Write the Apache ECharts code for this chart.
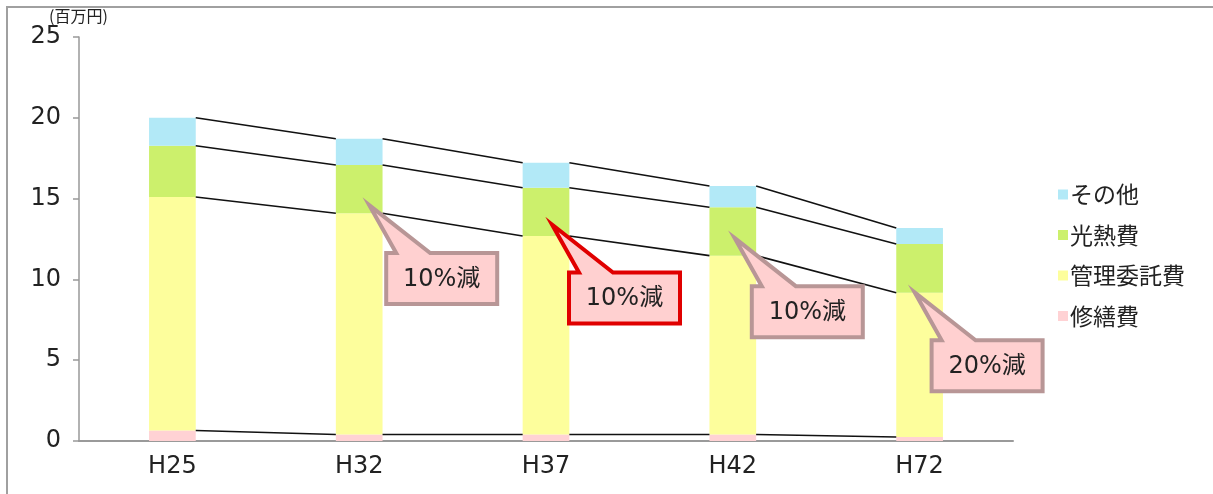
<!DOCTYPE html>
<html>
<head>
<meta charset="utf-8">
<script src="https://cdn.jsdelivr.net/npm/echarts@6/dist/echarts.min.js"></script>
<style>
	html, body { margin: 0; padding: 0; background: #fff; }
	#chart { width: 1213px; height: 494px; }
</style>
</head>
<body>
<div id="chart"></div>
<script>
// 年度
const years = ['H25', 'H32', 'H37', 'H42', 'H72'];
// 各費目（百万円）
const repairCost = [0.65, 0.4, 0.4, 0.4, 0.25];       // 修繕費
const managementCost = [14.45, 13.69, 12.29, 11.07, 8.93]; // 管理委託費
const utilityCost = [3.17, 2.99, 2.98, 2.99, 3.01];   // 光熱費
const otherCost = [1.73, 1.62, 1.55, 1.32, 0.99];     // その他
const yTicks = [0, 5, 10, 15, 20, 25];

// 吹き出し（対象年度・指す値・文言）
const calloutYearIdx = [1, 2, 3, 4];
const calloutTipValue = [14.6, 13.4, 12.55, 9.2];
const calloutText = ['10%減', '10%減', '10%減', '20%減'];

const FONT = '"DejaVu Sans", "Noto Sans CJK JP", sans-serif';
const CJK_FONT = '"Noto Sans CJK JP", sans-serif';
const colors = {
	repair: '#ffd2d4',
	management: '#fdfe9c',
	utility: '#ccf06c',
	other: '#b2e9f7'
};

//積み上げの境目（線を引く高さ）
const levels = [[], [], [], []];
for (let i = 0; i < years.length; ++i) {
	let a = repairCost[i];
	let b = a + managementCost[i];
	let c = b + utilityCost[i];
	let d = c + otherCost[i];
	levels[0].push(a); levels[1].push(b); levels[2].push(c); levels[3].push(d);
}

const BAR_RATIO = 0.25;

// 棒と棒をつなぐ線
const renderLinks = (params, api) => {
	const i = api.value(0);
	const half = api.size([1, 0])[0] * BAR_RATIO / 2;
	const children = [];
	for (let k = 0; k < levels.length; ++k) {
		const p1 = api.coord([i, levels[k][i]]);
		const p2 = api.coord([i + 1, levels[k][i + 1]]);
		children.push({
			type: 'line',
			shape: { x1: p1[0] + half, y1: p1[1], x2: p2[0] - half, y2: p2[1] },
			style: { stroke: '#111', lineWidth: 1.6 }
		});
	}
	return { type: 'group', children: children };
};

// 吹き出しのレイアウト（ピクセル）
const tipShift = [10, 6, 2, -5];
const box = { dx: 17, dy: 48, w: 111, h: 51, baseL: 10, baseR: 44 };

const renderCallouts = (params, api) => {
	const n = params.dataIndex;
	const p = api.coord([api.value(0), api.value(1)]);
	const tx = p[0] + tipShift[n];
	const ty = p[1];
	const left = tx + box.dx, top = ty + box.dy;
	const right = left + box.w, bottom = top + box.h;
	const isRed = n === 1;
	return {
		type: 'group',
		children: [
			{
				type: 'polygon',
				shape: {
					points: [
						[tx, ty],
						[left + box.baseR, top],
						[right, top],
						[right, bottom],
						[left, bottom],
						[left, top],
						[left + box.baseL, top]
					]
				},
				style: {
					fill: '#ffd0d0',
					stroke: isRed ? '#e00000' : '#b89696',
					lineWidth: 4,
					lineJoin: 'miter'
				}
			},
			{
				type: 'text',
				x: (left + right) / 2,
				y: (top + bottom) / 2 + 1,
				style: {
					text: calloutText[n],
					fontSize: 24,
					fontFamily: FONT,
					fill: '#222',
					align: 'center',
					verticalAlign: 'middle'
				}
			}
		]
	};
};

const chart = echarts.init(document.getElementById('chart'));
const option = {
	animation: false,
	textStyle: { fontFamily: FONT },
	grid: { left: 79, right: 200, top: 37, bottom: 53 },
	graphic: [
		{
			type: 'rect',
			shape: { x: 7, y: 7, width: 1400, height: 700 },
			style: { fill: 'none', stroke: '#a0a0a0', lineWidth: 2 },
			silent: true
		},
		{
			type: 'text',
			left: 49,
			top: 8,
			style: { text: '(百万円)', fontSize: 16, fontFamily: CJK_FONT, fill: '#222' }
		}
	],
	legend: {
		orient: 'vertical',
		left: 1053,
		top: 178,
		icon: 'rect',
		itemWidth: 10,
		itemHeight: 10,
		itemGap: 17.5,
		textStyle: { fontSize: 23, color: '#222', fontFamily: CJK_FONT, padding: [0, 0, 0, -3] },
		data: ['その他', '光熱費', '管理委託費', '修繕費']
	},
	xAxis: {
		type: 'category',
		data: years,
		axisLine: { lineStyle: { color: '#9a9a9a', width: 2 } },
		axisTick: { show: false },
		axisLabel: { fontSize: 24, color: '#222', margin: 14, fontFamily: FONT }
	},
	yAxis: {
		type: 'value',
		min: yTicks[0],
		max: yTicks[yTicks.length - 1],
		interval: yTicks[1] - yTicks[0],
		axisLine: { show: true, lineStyle: { color: '#999', width: 1.5 } },
		axisTick: { show: true, length: 6, lineStyle: { color: '#999', width: 1.5 } },
		axisLabel: { fontSize: 24, color: '#222', margin: 18, fontFamily: FONT },
		splitLine: { show: false }
	},
	series: [
		{ name: '修繕費', type: 'bar', stack: 'cost', barWidth: (BAR_RATIO * 100) + '%', itemStyle: { color: colors.repair }, data: repairCost },
		{ name: '管理委託費', type: 'bar', stack: 'cost', itemStyle: { color: colors.management }, data: managementCost },
		{ name: '光熱費', type: 'bar', stack: 'cost', itemStyle: { color: colors.utility }, data: utilityCost },
		{ name: 'その他', type: 'bar', stack: 'cost', itemStyle: { color: colors.other }, data: otherCost },
		{
			type: 'custom',
			renderItem: renderLinks,
			data: years.slice(0, -1).map((y, i) => [i]),
			z: 3,
			silent: true
		},
		{
			type: 'custom',
			renderItem: renderCallouts,
			data: calloutYearIdx.map((c, i) => [c, calloutTipValue[i]]),
			z: 5,
			silent: true
		}
	]
};
chart.setOption(option);
</script>
</body>
</html>
